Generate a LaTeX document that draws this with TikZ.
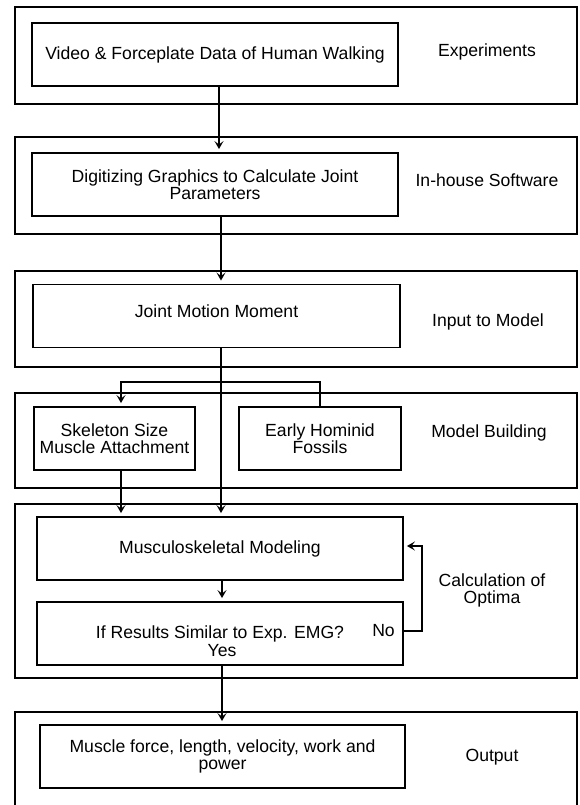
\documentclass[tikz,border=0pt]{standalone}
\usepackage{fontspec}
\setmainfont{Liberation Sans}
\usetikzlibrary{arrows.meta,positioning}

\begin{document}
\begin{tikzpicture}[
		x=1pt, y=-1pt,
		outerbox/.style={draw, line width=1.9pt, minimum width=562pt, inner sep=0pt},
		stepbox/.style={draw, line width=1.9pt, inner sep=0pt, minimum height=63pt, align=center, font=\fontsize{17.6}{17}\selectfont},
		sidetext/.style={align=center, inner sep=0pt, font=\fontsize{17.6}{17}\selectfont},
		flowline/.style={line width=1.9pt, -{Stealth[length=8pt,width=9pt,inset=3.5pt]}, shorten >=3pt},
		splitline/.style={line width=1.2pt},
		]
	
		\useasboundingbox (0,0) rectangle (580,805);
	
		\node[outerbox, minimum height=97pt] (L1) at (296,55.5) {};
		\node[outerbox, minimum height=97pt] (L2) at (296,185.5) {};
		\node[outerbox, minimum height=96pt] (L3) at (296,319) {};
		\node[outerbox, minimum height=95pt] (L4) at (296,440.5) {};
		\node[outerbox, minimum height=174pt] (L5) at (296,591) {};
		\draw[line width=1.9pt] (15,805) |- (577,712) -- (577,805);
	
		\node[stepbox, minimum width=366pt] (V) at (215,54.5) {Video \& Forceplate Data of Human Walking};
		\node[stepbox, minimum width=366pt] (D) at (215,184.5) {Digitizing Graphics to Calculate Joint\\Parameters};
		\node[stepbox, minimum width=367pt, text depth=10pt] (J) at (216.5,316) {Joint Motion Moment};
		\node[stepbox, minimum width=161pt] (S) at (114.5,438.5) {Skeleton Size\\Muscle Attachment};
		\node[stepbox, minimum width=162pt] (H) at (320,438.5) {Early Hominid\\Fossils};
		\node[stepbox, minimum width=366pt] (M) at (220,548.5) {Musculoskeletal Modeling};
		\node[stepbox, minimum width=366pt] (Q) at (220,633.5) {If Results Similar to Exp. EMG?};
		\node[stepbox, minimum width=365pt] (O) at (222.5,756.5) {Muscle force, length, velocity, work and\\power};
	
		\node[sidetext] (exp) at (487,52) {Experiments};
		\node[sidetext] (soft) at (487,180) {In-house Software};
		\node[sidetext] (inp) at (488,322) {Input to Model};
		\node[sidetext] (build) at (489,433) {Model Building};
		\node[sidetext] (opt) at (492,590) {Calculation of\\Optima};
		\node[sidetext] (out) at (492,757) {Output};
		\node[sidetext] (yes) at (222,651) {Yes};
		\node[sidetext, anchor=east] (no) at ([xshift=-9pt,yshift=2.5pt]Q.east) {No};
	
		\draw[flowline] ([xshift=4pt]V.south) -- ([xshift=4pt]D.north);
		\draw[flowline] ([xshift=6pt]D.south) -- ([xshift=4.5pt]J.north);
		\draw[flowline] ([xshift=4.5pt]J.south) -- ([xshift=1pt]M.north);
	
		\coordinate (fork) at (221,382);
		\draw[splitline, -{Stealth[length=8pt,width=9pt,inset=3.5pt]}, shorten >=3pt] (fork) -| ([xshift=6.5pt]S.north);
		\draw[splitline] (fork) -| (H.north);
		\draw[flowline] ([xshift=6.5pt]S.south) -- ([xshift=6.5pt]S.south |- M.north);
	
		\draw[flowline] ([xshift=2pt]M.south) -- ([xshift=2pt]Q.north);
		\draw[flowline] ([yshift=2.5pt]Q.east) -- ++(18,0) |- ([yshift=2.5pt]M.east);
		\draw[flowline] ([xshift=2pt]Q.south) -- ([xshift=-0.5pt]O.north);
	
	\end{tikzpicture}
\end{document}
